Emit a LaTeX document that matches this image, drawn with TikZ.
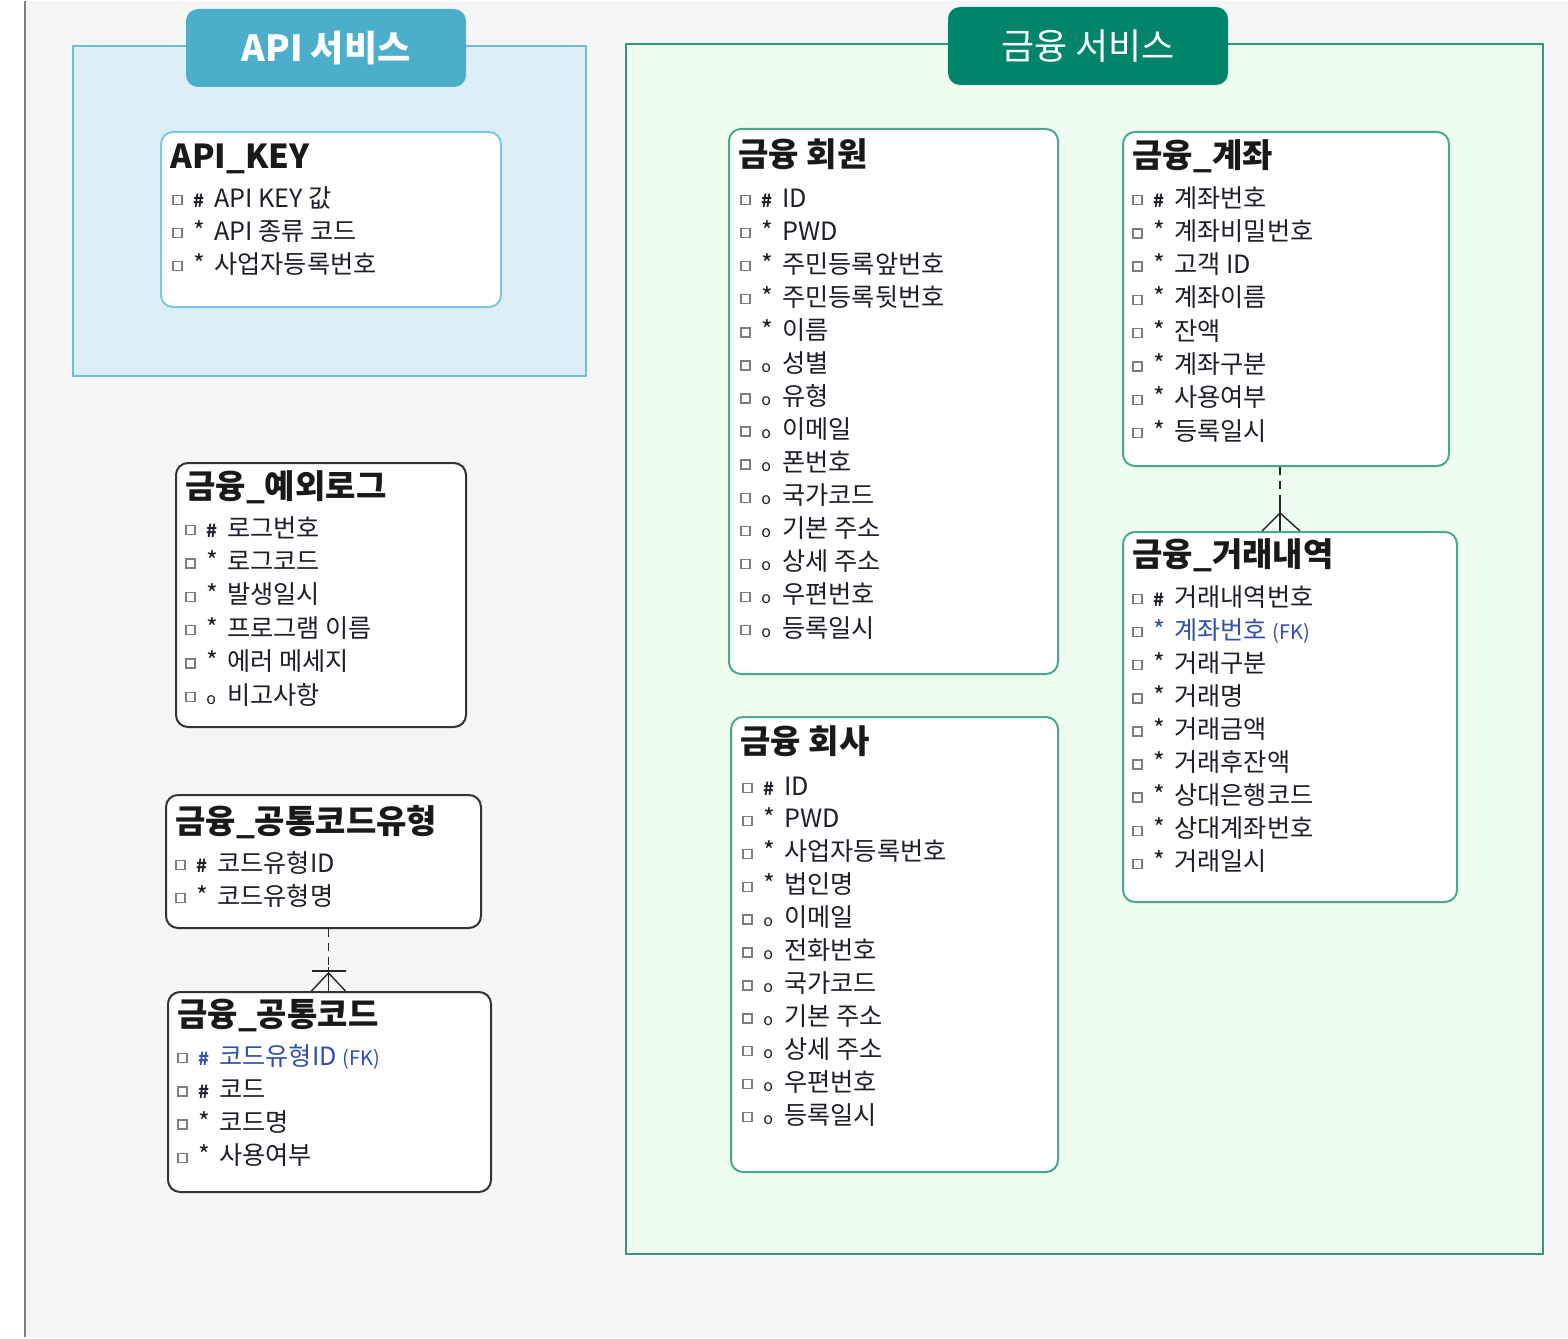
\documentclass[tikz,border=0pt]{standalone}
\usepackage{fontspec}
\setmainfont{Noto Sans CJK KR}
\usepackage{tikz}
\usetikzlibrary{positioning,calc}
\usepackage{xcolor}
\definecolor{bggrey}{RGB}{246, 246, 246}
\definecolor{apifill}{RGB}{221, 238, 247}
\definecolor{apiline}{RGB}{110, 192, 218}
\definecolor{apitab}{RGB}{75, 175, 203}
\definecolor{finfill}{RGB}{237, 253, 240}
\definecolor{finline}{RGB}{52, 150, 122}
\definecolor{fintab}{RGB}{0, 133, 106}
\definecolor{entteal}{RGB}{74, 168, 142}
\definecolor{entblue}{RGB}{124, 200, 222}
\definecolor{rowtext}{RGB}{30, 30, 40}
\definecolor{fktext}{RGB}{48, 80, 170}
\definecolor{icongrey}{RGB}{125, 125, 125}

\newcommand{\sqicon}{\textcolor{icongrey}{\raisebox{1.6pt}{\fboxsep=0pt\fboxrule=0.7pt\fbox{\phantom{\rule{3.8pt}{3.8pt}}}}}}
\newcommand{\pkey}{{\fontsize{9}{9}\selectfont\bfseries\#}}
\newcommand{\mand}{*}
\newcommand{\optl}{{\fontsize{8}{8}\selectfont o}}
\newcommand{\fkmark}{{\fontsize{10}{10}\selectfont(FK)}}

\begin{document}
\begin{tikzpicture}[
    x=0.5pt, y=-0.5pt,
    area/.style={draw, line width=1pt, anchor=north west, inner sep=0pt},
    tab/.style={rounded corners=6pt, minimum width=140pt, minimum height=39pt, text=white, font=\fontsize{18}{18}\selectfont, inner sep=0pt},
    entbox/.style={draw=#1, line width=1pt, fill=white, rounded corners=6pt, anchor=north west, inner sep=0pt},
    enttitle/.style={anchor=base west, inner sep=0pt, font=\fontsize{16.5}{16.5}\selectfont\bfseries, text=black!90},
    row/.style={anchor=base west, inner sep=0pt, font=\fontsize{12.6}{12.6}\selectfont, text=rowtext},
    rel/.style={draw=black!85, line width=0.7pt},
    reldash/.style={rel, dash pattern=on 4pt off 3pt}
]
    % page and left rule
    \fill[white] (0,0) rectangle (1568,1336);
    \fill[bggrey] (25,0) rectangle (1568,1336);
    \draw[black!50, line width=1pt] (25,0) -- (25,1336);
    \useasboundingbox (0,0) rectangle (1568,1336);

    % subject areas
    \node[area, draw=apiline, fill=apifill, minimum width=256.5pt, minimum height=165pt] (apiarea) at (72,44) {};
    \node[area, draw=finline, fill=finfill, minimum width=458.5pt, minimum height=605pt] (finarea) at (625,42) {};
    \node[tab, fill=apitab, font=\fontsize{18}{18}\selectfont\bfseries] (apititle) at (326,47) {API 서비스};
    \node[tab, fill=fintab] (fintitle) at (1088,45) {금융 서비스};

    % API_KEY
    \node[entbox=entblue, minimum width=170pt, minimum height=87.5pt] (apikey) at (160,130) {};
    \node[enttitle] (apikey-t) at (170,168) {API\_KEY};
    \foreach \s/\t [count=\i from 0] in {\pkey/API KEY 값, \mand/API 종류 코드, \mand/사업자등록번호}
        \node[row] (apikey-\i) at (172,206+33*\i) {\makebox[10.5pt][l]{\sqicon}\makebox[10.5pt][l]{\s}\t};

    % 금융_예외로그
    \node[entbox=black!80, minimum width=145pt, minimum height=132pt] (errlog) at (175,461) {};
    \node[enttitle] (errlog-t) at (185,497) {금융\_예외로그};
    \foreach \s/\t [count=\i from 0] in {\pkey/로그번호, \mand/로그코드, \mand/발생일시, \mand/프로그램 이름, \mand/에러 메세지, \optl/비고사항}
        \node[row] (errlog-\i) at (185,536+33.4*\i) {\makebox[10.5pt][l]{\sqicon}\makebox[10.5pt][l]{\s}\t};

    % 금융_공통코드유형
    \node[entbox=black!80, minimum width=157.5pt, minimum height=66.5pt] (codetype) at (165,793) {};
    \node[enttitle] (codetype-t) at (175,832) {금융\_공통코드유형};
    \foreach \s/\t [count=\i from 0] in {\pkey/코드유형ID, \mand/코드유형명}
        \node[row] (codetype-\i) at (175,871+33*\i) {\makebox[10.5pt][l]{\sqicon}\makebox[10.5pt][l]{\s}\t};

    % 금융_공통코드
    \node[entbox=black!80, minimum width=161.5pt, minimum height=100pt] (code) at (167,990) {};
    \node[enttitle] (code-t) at (177,1025) {금융\_공통코드};
    \node[row] (code-0) at (177,1064) {\makebox[10.5pt][l]{\sqicon}\makebox[10.5pt][l]{\textcolor{fktext}{\pkey}}\textcolor{fktext}{코드유형ID \fkmark}};
    \foreach \s/\t [count=\i from 1] in {\pkey/코드, \mand/코드명, \mand/사용여부}
        \node[row] (code-\i) at (177,1064+33.3*\i) {\makebox[10.5pt][l]{\sqicon}\makebox[10.5pt][l]{\s}\t};

    % 금융 회원
    \node[entbox=entteal, minimum width=164.5pt, minimum height=272.5pt] (member) at (728,127) {};
    \node[enttitle] (member-t) at (738,165) {금융 회원};
    \foreach \s/\t [count=\i from 0] in {\pkey/ID, \mand/PWD, \mand/주민등록앞번호, \mand/주민등록뒷번호, \mand/이름, \optl/성별, \optl/유형, \optl/이메일, \optl/폰번호, \optl/국가코드, \optl/기본 주소, \optl/상세 주소, \optl/우편번호, \optl/등록일시}
        \node[row] (member-\i) at (740,206+33.08*\i) {\makebox[10.5pt][l]{\sqicon}\makebox[10.5pt][l]{\s}\t};

    % 금융 회사
    \node[entbox=entteal, minimum width=163.5pt, minimum height=227.5pt] (company) at (730,715) {};
    \node[enttitle] (company-t) at (740,752) {금융 회사};
    \foreach \s/\t [count=\i from 0] in {\pkey/ID, \mand/PWD, \mand/사업자등록번호, \mand/법인명, \optl/이메일, \optl/전화번호, \optl/국가코드, \optl/기본 주소, \optl/상세 주소, \optl/우편번호, \optl/등록일시}
        \node[row] (company-\i) at (742,794+32.9*\i) {\makebox[10.5pt][l]{\sqicon}\makebox[10.5pt][l]{\s}\t};

    % 금융_계좌
    \node[entbox=entteal, minimum width=163pt, minimum height=167pt] (account) at (1122,130) {};
    \node[enttitle] (account-t) at (1132,167) {금융\_계좌};
    \foreach \s/\t [count=\i from 0] in {\pkey/계좌번호, \mand/계좌비밀번호, \mand/고객 ID, \mand/계좌이름, \mand/잔액, \mand/계좌구분, \mand/사용여부, \mand/등록일시}
        \node[row] (account-\i) at (1132,206+33.3*\i) {\makebox[10.5pt][l]{\sqicon}\makebox[10.5pt][l]{\s}\t};

    % 금융_거래내역
    \node[entbox=entteal, minimum width=167pt, minimum height=185pt] (trade) at (1122,530) {};
    \node[enttitle] (trade-t) at (1132,565) {금융\_거래내역};
    \node[row] (trade-0) at (1132,605) {\makebox[10.5pt][l]{\sqicon}\makebox[10.5pt][l]{\pkey}거래내역번호};
    \node[row] (trade-1) at (1132,638) {\makebox[10.5pt][l]{\sqicon}\makebox[10.5pt][l]{\textcolor{fktext}{\mand}}\textcolor{fktext}{계좌번호 \fkmark}};
    \foreach \s/\t [count=\i from 2] in {\mand/거래구분, \mand/거래명, \mand/거래금액, \mand/거래후잔액, \mand/상대은행코드, \mand/상대계좌번호, \mand/거래일시}
        \node[row] (trade-\i) at (1132,605+33.1*\i) {\makebox[10.5pt][l]{\sqicon}\makebox[10.5pt][l]{\s}\t};

    % relation: 공통코드유형 -> 공통코드
    \coordinate (ctfoot) at ($(code.north)+(-1,-18)$);
    \draw[reldash] (ctfoot |- codetype.south) -- ($(ctfoot)+(0,-6)$);
    \draw[rel] ($(ctfoot)+(-17,-2)$) -- ($(ctfoot)+(17,-2)$);
    \draw[rel] ($(ctfoot)+(0,-6)$) -- (ctfoot |- code.north);
    \draw[rel] (ctfoot) -- ($(ctfoot)+(-17,18)$);
    \draw[rel] (ctfoot) -- ($(ctfoot)+(17,18)$);

    % relation: 계좌 -> 거래내역
    \coordinate (trtop) at (1280,530);
    \coordinate (trfoot) at ($(trtop)+(0,-18)$);
    \draw[reldash] (trtop |- account.south) -- ($(trtop)+(0,-33)$);
    \draw[rel] ($(trtop)+(0,-33)$) -- (trtop);
    \draw[rel] (trfoot) -- ($(trtop)+(-18,0)$);
    \draw[rel] (trfoot) -- ($(trtop)+(20,0)$);
\end{tikzpicture}
\end{document}
